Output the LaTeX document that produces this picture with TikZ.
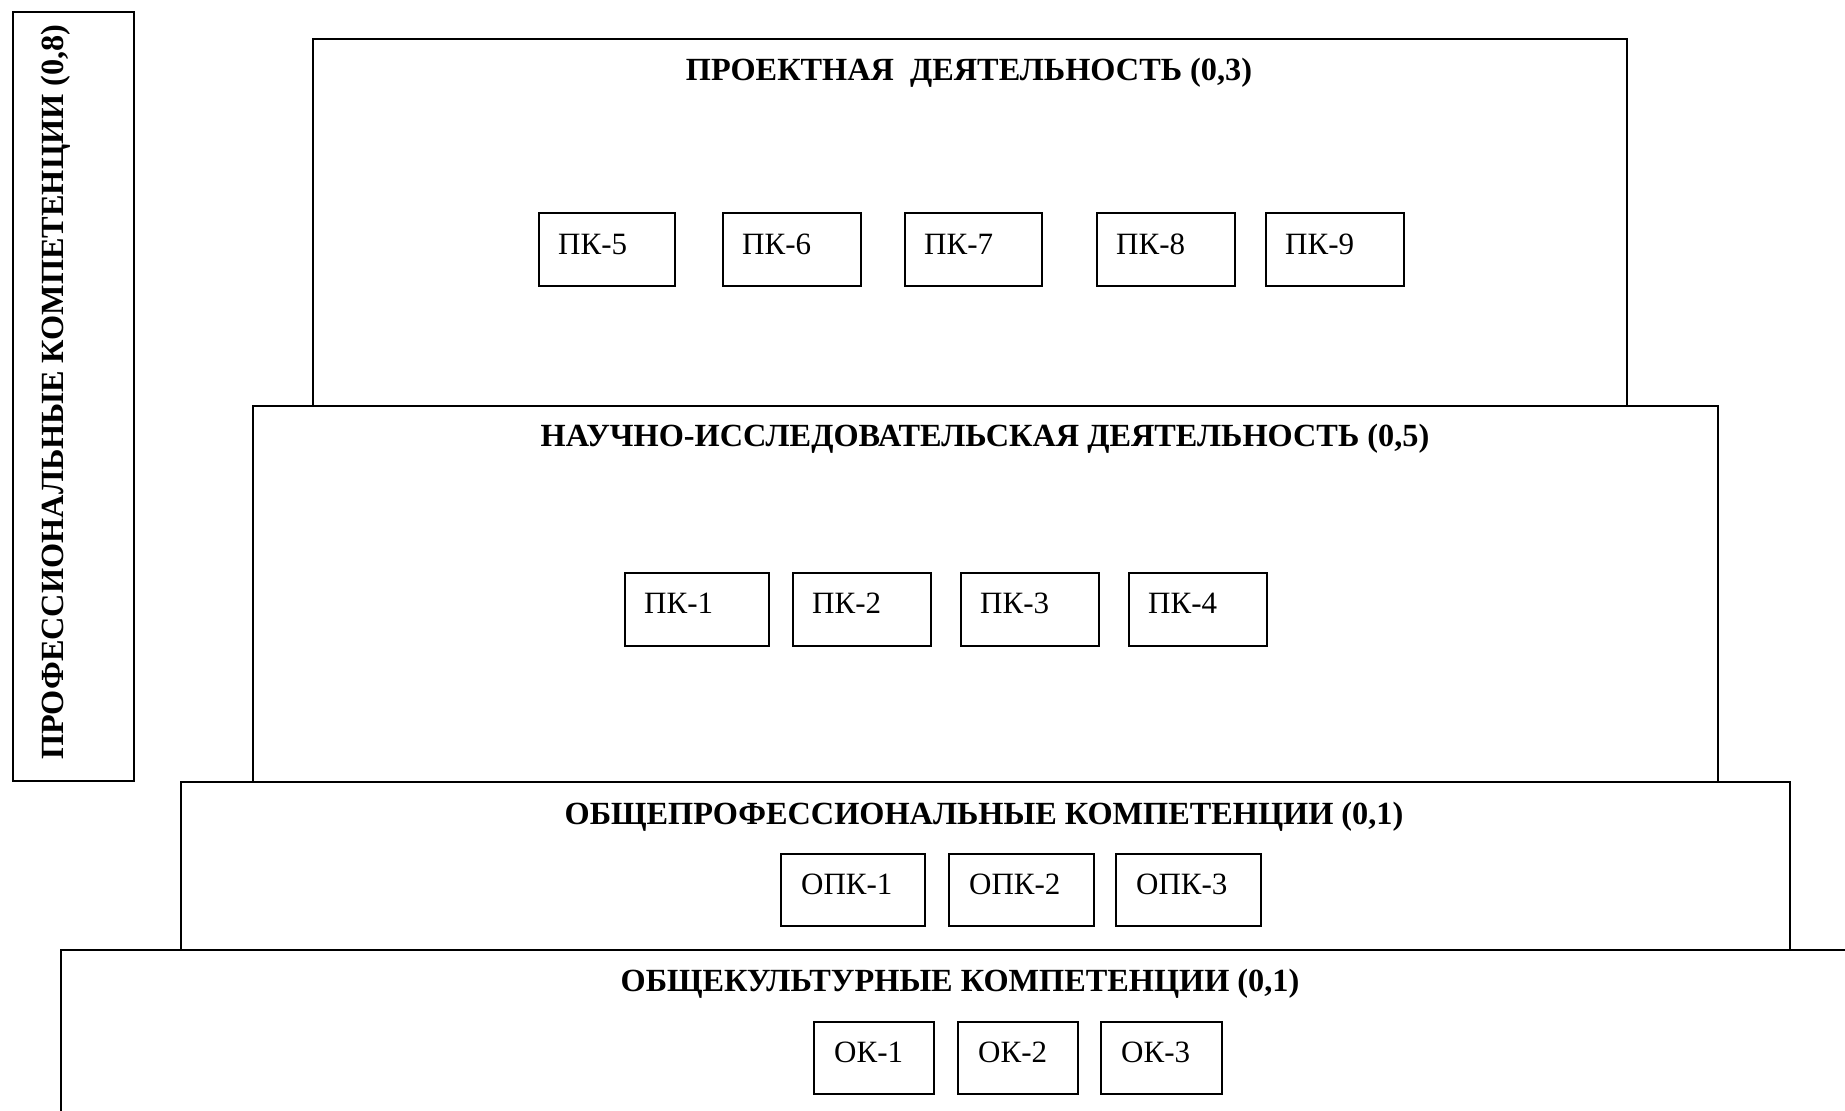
\documentclass[tikz,border=0pt]{standalone}
\usepackage{fontspec}
\setmainfont{Liberation Serif}
\begin{document}
\begin{tikzpicture}[x=1pt,y=-1pt,
  frame/.style={draw=black,line width=2pt,inner sep=0pt,anchor=north west,fill=none},
  title/.style={font=\fontsize{32.3}{38}\selectfont\bfseries,anchor=base,inner sep=0pt},
  lbl/.style={font=\fontsize{31}{37}\selectfont,anchor=base west,inner sep=0pt}]
\useasboundingbox (0,0) rectangle (1845,1111);
\clip (0,0) rectangle (1845,1111);
% left vertical box
\node[frame,minimum width=121pt,minimum height=769pt] (pk) at (12,11) {};
\node[font=\fontsize{32.3}{38}\selectfont\bfseries,rotate=90,anchor=base west,inner sep=0pt] (pkt) at (63,760) {ПРОФЕССИОНАЛЬНЫЕ КОМПЕТЕНЦИИ (0,8)};
% layers
\node[frame,minimum width=1314pt,minimum height=367pt] (b1) at (312,38) {};
\node[frame,minimum width=1465pt,minimum height=376pt] (b2) at (252,405) {};
\node[frame,minimum width=1609pt,minimum height=168pt] (b3) at (180,781) {};
\node[frame,minimum width=1850pt,minimum height=250pt] (b4) at (60,949) {};
% titles
\node[title] (t1) at (969,80) {ПРОЕКТНАЯ\ \ ДЕЯТЕЛЬНОСТЬ (0,3)};
\node[title] (t2) at (985,446) {НАУЧНО-ИССЛЕДОВАТЕЛЬСКАЯ ДЕЯТЕЛЬНОСТЬ (0,5)};
\node[title] (t3) at (984,824) {ОБЩЕПРОФЕССИОНАЛЬНЫЕ КОМПЕТЕНЦИИ (0,1)};
\node[title] (t4) at (960,991) {ОБЩЕКУЛЬТУРНЫЕ КОМПЕТЕНЦИИ (0,1)};
% PK 5-9
\foreach \nm/\x/\w in {5/538/136, 6/722/138, 7/904/137, 8/1096/138, 9/1265/138}{
  \node[frame,minimum width=\w pt,minimum height=73pt] (pk\nm) at (\x,212) {};
  \node[lbl] (pk\nm t) at (\x+20,254) {ПК-\nm};
}
% PK 1-4
\foreach \nm/\x/\w in {1/624/144, 2/792/138, 3/960/138, 4/1128/138}{
  \node[frame,minimum width=\w pt,minimum height=73pt] (pk\nm) at (\x,572) {};
  \node[lbl] (pk\nm t) at (\x+20,613) {ПК-\nm};
}
% OPK
\foreach \nm/\x/\w in {1/780/144, 2/948/145, 3/1115/145}{
  \node[frame,minimum width=\w pt,minimum height=72pt] (opk\nm) at (\x,853) {};
  \node[lbl] (opk\nm t) at (\x+21,894) {ОПК-\nm};
}
% OK
\foreach \nm/\x/\w in {1/813/120, 2/957/120, 3/1100/121}{
  \node[frame,minimum width=\w pt,minimum height=72pt] (ok\nm) at (\x,1021) {};
  \node[lbl] (ok\nm t) at (\x+21,1062) {ОК-\nm};
}
\end{tikzpicture}
\end{document}
